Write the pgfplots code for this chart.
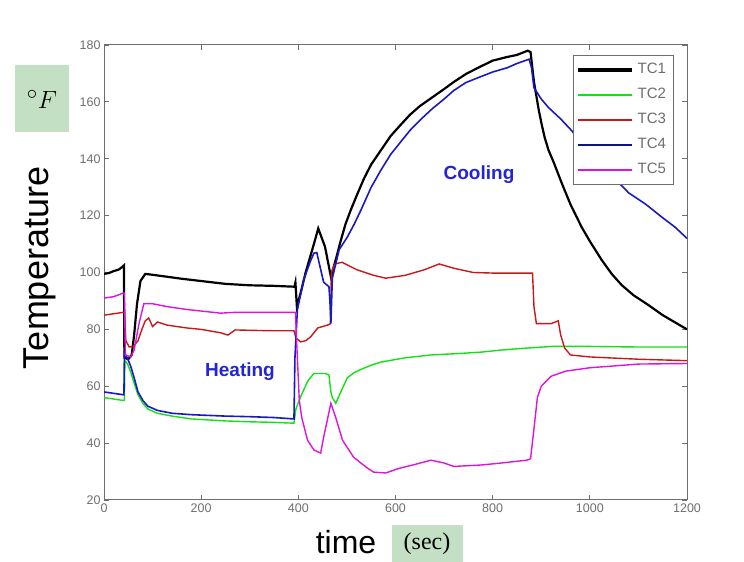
\documentclass[border=0pt]{standalone}
\usepackage{pgfplots}
\pgfplotsset{compat=1.18}
\usepackage{fontspec}
\setmainfont{Liberation Sans}
\newfontfamily\seriffont{Liberation Serif}
\definecolor{tcgreen}{RGB}{20,225,20}
\definecolor{tcred}{RGB}{200,25,25}
\definecolor{tcblue}{RGB}{25,25,195}
\definecolor{tcmag}{RGB}{220,20,220}
\definecolor{boxgreen}{RGB}{196,224,196}
\definecolor{txtblue}{RGB}{35,35,215}
\definecolor{axgray}{RGB}{110,110,110}
\begin{document}
\begin{tikzpicture}[x=1pt,y=1pt]
\useasboundingbox (0,0) rectangle (744,562);
\begin{axis}[
  at={(104pt,62pt)}, anchor=south west, scale only axis,
  width=583pt, height=455pt,
  xmin=0, xmax=1200, ymin=20, ymax=180,
  xtick={0,200,...,1200}, ytick={20,40,...,180},
  tick align=inside, major tick length=5pt,
  axis line style={axgray, line width=1pt},
  tick style={axgray, line width=0.8pt},
  /pgf/number format/assume math mode=true,
  /pgf/number format/1000 sep={},
  tick label style={font=\fontsize{12.5}{13}\selectfont, text=axgray},
  legend cell align=left,
  legend style={at={(0.804,0.978)}, anchor=north west, draw=axgray, line width=0.8pt,
    font=\fontsize{15}{15}\selectfont, text=axgray,
    nodes={text height=10.5pt, text depth=2.5pt, inner xsep=4pt, inner ysep=6pt},
    /tikz/every even column/.append style={column sep=0pt}},
  legend image code/.code={\draw[#1] (0pt,0pt) -- (54pt,0pt);},
]
% TC1
\addplot[black, line width=2.2pt, forget plot] coordinates {
(0,99.5) (10,99.8) (20,100.5) (30,101) (38,102) (41,102.5) (42,70) (50,69.5) (57,71) (62,78) (68,89) (75,97) (85,99.5) (100,99.2) (130,98.5) (160,97.8) (200,97) (250,96) (300,95.5) (350,95.3) (392,95)
(394,96.5) (397,88) (405,93) (415,100) (432,110) (441,115.5) (455,109) (467,98.5) (477,104.5) (487,111) (497,117) (508,122) (520,127) (535,133) (550,138) (570,143) (590,148) (611,152) (630,155.5) (650,158.5) (675,161.5) (700,164.5) (720,167) (745,169.8) (770,172) (800,174.5) (830,175.8) (850,176.5) (872,178) (878,177.5)
(885,167) (890,162) (895,157) (901,152) (907,147.5) (915,143) (925,139) (942,131.5) (960,124) (983,116) (1000,111) (1024,104.5) (1045,99.5) (1066,95.5) (1090,92) (1121,88.5) (1150,85) (1175,82.5) (1200,80)};
% TC2
\addplot[tcgreen, line width=1.4pt, forget plot] coordinates {
(0,56) (20,55.5) (40,55) (42,55) (43,69) (48,68) (55,65) (62,61) (70,57) (80,54) (90,52) (110,50.5) (140,49.5) (180,48.5) (250,47.8) (300,47.5) (350,47.3) (391,47)
(395,52) (404,56) (411,58.7) (420,62) (432,64.5) (455,64.5) (463,64) (467,58) (470,56) (477,54) (490,59) (501,63) (515,64.8) (530,66) (550,67.4) (570,68.5) (620,70) (673,71) (730,71.5) (776,72) (816,72.7) (860,73.3) (921,74) (1000,74) (1100,73.8) (1200,73.8)};
% TC3
\addplot[tcred, line width=1.4pt, forget plot] coordinates {
(0,85) (20,85.5) (40,86) (42,86) (45,76) (52,73.8) (60,74) (70,76) (78,80) (85,83) (92,84) (100,81) (110,82.6) (130,81.5) (170,80.5) (200,80) (240,78.8) (255,78) (270,79.8) (320,79.6) (360,79.5) (391,79.5)
(395,77) (405,75.6) (415,76) (425,77.3) (440,80.5) (460,81.5) (466,82) (468,100) (475,103) (490,103.6) (520,101) (555,99) (580,98) (620,99) (660,101) (690,103) (720,101.5) (760,100) (800,99.8) (850,99.8) (882,99.8)
(885,88) (890,82) (920,82) (935,83) (940,78) (948,73.5) (960,71) (1000,70.3) (1100,69.5) (1200,69)};
% TC4
\addplot[tcblue, line width=1.6pt, forget plot] coordinates {
(0,58) (20,57.5) (40,57) (41,57) (42,71.5) (48,70) (55,67) (62,63) (70,58) (80,55) (90,53) (110,51.5) (140,50.5) (180,50) (250,49.5) (300,49.3) (350,49) (391,48.5)
(393,70) (398,86.8) (411,97.4) (425,104) (432,106.8) (438,107) (452,96.6) (463,95) (465,90) (467,82) (470,98) (484,108) (501,112.5) (515,117) (529,122) (550,130) (570,136) (590,141.5) (611,146) (630,150) (650,153.5) (675,157.5) (700,161) (720,164) (745,166.8) (770,168.5) (800,170.5) (830,172) (850,173.5) (875,175)
(880,172) (885,165) (900,161) (915,158) (940,154) (962,150) (1000,142) (1040,135) (1080,128) (1115,124) (1148,119.5) (1175,116) (1200,112)};
% TC5
\addplot[tcmag, line width=1.4pt, forget plot] coordinates {
(0,91) (20,91.5) (40,92.8) (42,92.8) (44,71) (55,70.3) (62,72.7) (72,82) (82,89) (100,89) (130,88) (170,87) (240,85.7) (270,86) (390,86) (394,86)
(398,70) (402,55) (407,49) (419,41) (432,37.6) (446,36.5) (452,42) (467,54) (477,49) (491,41) (514,35) (540,31.5) (555,29.8) (580,29.5) (605,31) (640,32.5) (673,34) (700,33) (720,31.8) (776,32.3) (818,33) (870,34) (878,34.5)
(885,45) (892,56) (900,60) (920,63.5) (950,65.3) (1000,66.5) (1100,67.8) (1200,68)};
% legend entries
\addlegendimage{black, line width=3.5pt}
\addlegendentry{TC1}
\addlegendimage{tcgreen, line width=1.6pt}
\addlegendentry{TC2}
\addlegendimage{tcred, line width=1.6pt}
\addlegendentry{TC3}
\addlegendimage{tcblue!70!black, line width=1.6pt}
\addlegendentry{TC4}
\addlegendimage{tcmag, line width=1.6pt}
\addlegendentry{TC5}
\end{axis}
% annotations
\node[font=\bfseries\fontsize{19}{19}\selectfont, text=txtblue] at (240,190) {Heating};
\node[font=\bfseries\fontsize{19}{19}\selectfont, text=txtblue] at (479,387) {Cooling};
\node[rotate=90, font=\fontsize{36}{36}\selectfont] at (40,294) {Temperature};
\fill[boxgreen] (15,430) rectangle (69,497);
\node at (42,463) {\fontsize{30}{30}\selectfont$^\circ F$};
\node[anchor=base, font=\fontsize{32}{32}\selectfont] at (346,9) {time};
\fill[boxgreen] (392,0) rectangle (463,37);
\node[font=\seriffont\fontsize{24}{24}\selectfont] at (427,18) {(sec)};
\end{tikzpicture}
\end{document}
